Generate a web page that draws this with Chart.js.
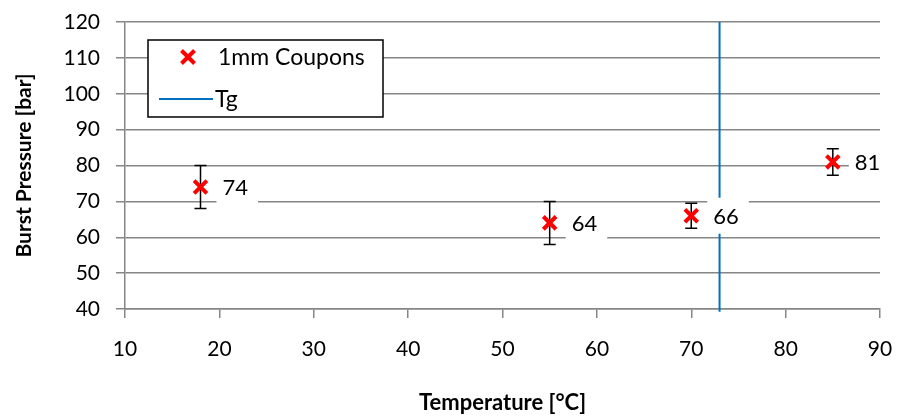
<!DOCTYPE html>
<html>
<head>
<meta charset="utf-8">
<script src="https://cdn.jsdelivr.net/npm/chart.js@4.4.1/dist/chart.umd.min.js"></script>
<style>
  html, body { margin: 0; padding: 0; background: #fff; }
  #wrap { width: 900px; height: 419px; position: relative; }
</style>
</head>
<body>
<div id="wrap"><canvas id="c" width="900" height="419"></canvas></div>
<script>
// Burst pressure of 1 mm coupons versus test temperature
const temperatures = [18, 55, 70, 85];
const burstPressure = [74, 64, 66, 81];
const pressureError = [6, 6, 3.5, 3.7];
const tgTemperature = 73;
const pressureRange = [40, 120];
const temperatureRange = [10, 90];
const seriesLabels = ['1mm Coupons', 'Tg'];

const FONT = 'Lato, "Open Sans", sans-serif';
const GRID = '#868686';
const RED = '#FF0000';
const BLUE = '#0070C0';

// error bars, drawn beneath the markers
const errorBars = {
  id: 'errorBars',
  beforeDatasetsDraw(chart) {
    const { ctx, scales: { x, y } } = chart;
    ctx.save();
    ctx.strokeStyle = '#000';
    ctx.lineWidth = 1.5;
    temperatures.forEach((t, i) => {
      const px = x.getPixelForValue(t);
      const top = y.getPixelForValue(burstPressure[i] + pressureError[i]);
      const bot = y.getPixelForValue(burstPressure[i] - pressureError[i]);
      ctx.beginPath();
      ctx.moveTo(px, top); ctx.lineTo(px, bot);
      ctx.moveTo(px - 6, top); ctx.lineTo(px + 6, top);
      ctx.moveTo(px - 6, bot); ctx.lineTo(px + 6, bot);
      ctx.stroke();
    });
    ctx.restore();
  }
};

// value labels on white boxes, plus the legend box
const labelsAndLegend = {
  id: 'labelsAndLegend',
  afterDatasetsDraw(chart) {
    const { ctx, scales: { x, y } } = chart;
    ctx.save();
    ctx.font = '22px ' + FONT;
    ctx.textBaseline = 'middle';
    ctx.textAlign = 'left';
    temperatures.forEach((t, i) => {
      const px = x.getPixelForValue(t) + 16;
      const py = y.getPixelForValue(burstPressure[i]);
      const txt = String(burstPressure[i]);
      const w = ctx.measureText(txt).width + 16;
      ctx.fillStyle = '#fff';
      ctx.fillRect(px, py - 18, w, 36);
      ctx.fillStyle = '#000';
      ctx.fillText(txt, px + 6, py + 1);
    });

    // legend
    const lx = 148, ly = 40, lw = 235, lh = 77;
    ctx.fillStyle = '#fff';
    ctx.fillRect(lx, ly, lw, lh);
    ctx.strokeStyle = '#000';
    ctx.lineWidth = 1.5;
    ctx.strokeRect(lx, ly, lw, lh);

    // red cross marker
    const mx = 188, my = 57, r = 6.5;
    ctx.strokeStyle = RED;
    ctx.lineWidth = 4;
    ctx.beginPath();
    ctx.moveTo(mx - r, my - r); ctx.lineTo(mx + r, my + r);
    ctx.moveTo(mx + r, my - r); ctx.lineTo(mx - r, my + r);
    ctx.stroke();

    // Tg line sample
    ctx.strokeStyle = BLUE;
    ctx.lineWidth = 2;
    ctx.beginPath();
    ctx.moveTo(159, 99); ctx.lineTo(213, 99);
    ctx.stroke();

    ctx.fillStyle = '#000';
    ctx.font = '23px ' + FONT;
    ctx.fillText(seriesLabels[0], 218, 58);
    ctx.fillText(seriesLabels[1], 215, 100);
    ctx.restore();
  }
};

new Chart(document.getElementById('c'), {
  type: 'scatter',
  data: {
    datasets: [
      {
        label: seriesLabels[1],
        type: 'line',
        data: [{ x: tgTemperature, y: pressureRange[0] - 0.8 }, { x: tgTemperature, y: pressureRange[1] }],
        borderColor: BLUE,
        borderWidth: 2,
        pointRadius: 0,
        showLine: true,
        fill: false,
        clip: false,
        order: 2
      },
      {
        label: seriesLabels[0],
        data: temperatures.map((t, i) => ({ x: t, y: burstPressure[i] })),
        pointStyle: 'crossRot',
        pointRadius: 9,
        pointBorderWidth: 4,
        borderColor: RED,
        backgroundColor: RED,
        order: 1
      }
    ]
  },
  options: {
    responsive: false,
    animation: false,
    events: [],
    layout: { padding: { top: 22, right: 20, left: 0, bottom: 0 } },
    plugins: { legend: { display: false }, tooltip: { enabled: false } },
    scales: {
      x: {
        type: 'linear',
        min: temperatureRange[0],
        max: temperatureRange[1],
        ticks: { stepSize: 10, color: '#000', font: { family: FONT, size: 21 }, padding: 19, maxRotation: 0 },
        grid: { drawOnChartArea: false, drawTicks: true, tickLength: 9, color: GRID, lineWidth: 1.5 },
        border: { color: GRID, width: 1.5 },
        title: { display: true, text: 'Temperature [°C]', color: '#000', font: { family: FONT, size: 22, weight: 'bold' }, padding: { top: 0, bottom: 3 } },
        afterFit(scale) {
          scale.height = 110;
          scale.paddingLeft = 0;
          scale.paddingRight = 0;
        }
      },
      y: {
        type: 'linear',
        min: pressureRange[0],
        max: pressureRange[1],
        ticks: { stepSize: 10, color: '#000', font: { family: FONT, size: 21 }, padding: 16 },
        grid: { drawTicks: true, tickLength: 9, color: GRID, lineWidth: 1.5 },
        border: { color: GRID, width: 1.5 },
        title: { display: true, text: 'Burst Pressure [bar]', color: '#000', font: { family: FONT, size: 21, weight: 'bold' }, padding: { top: 12, bottom: 0 } },
        afterFit(scale) {
          scale.width = 125;
          scale.paddingTop = 0;
          scale.paddingBottom = 0;
        }
      }
    }
  },
  plugins: [errorBars, labelsAndLegend]
});
</script>
</body>
</html>
